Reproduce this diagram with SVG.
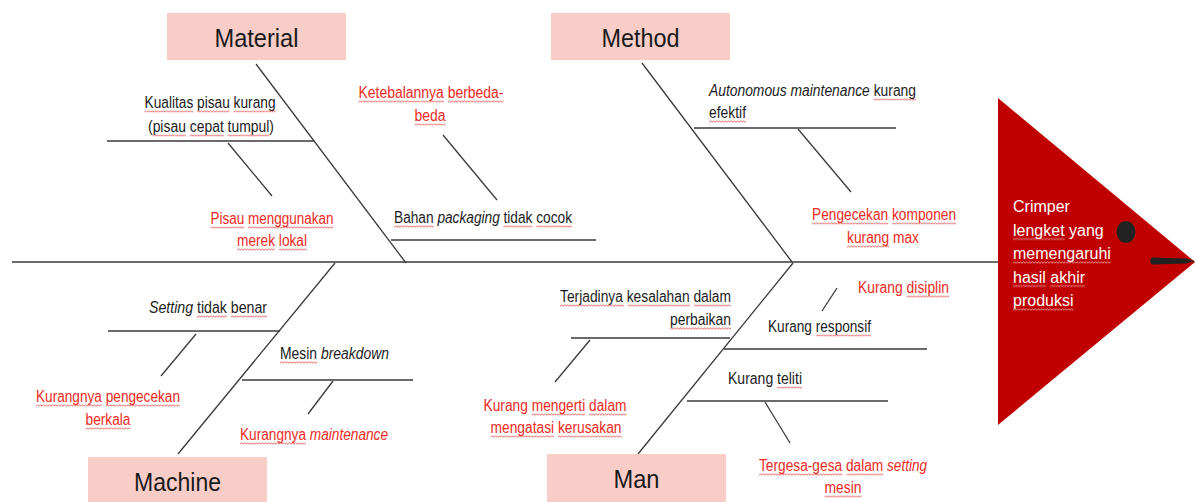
<svg xmlns="http://www.w3.org/2000/svg" width="1195" height="502" viewBox="0 0 1195 502">
<style>
.bg{fill:#ffffff}
.box{fill:#F8CDC8}
.title{font-family:"Liberation Sans",Arial,sans-serif;font-size:26px;fill:#1a1a1a;text-anchor:middle}
.t{font-family:"Liberation Sans",Arial,sans-serif;font-size:16px;fill:#1c1c1c}
.r{fill:#EC2A22}
.m{text-anchor:middle}
.e{text-anchor:end}
.i{font-style:italic}
.ln{stroke:#3a3a3a;stroke-width:1.3;fill:none}
.head{fill:#C00000}
.ht{font-family:"Liberation Sans",Arial,sans-serif;font-size:16px;fill:#ffffff}
.sq{fill:url(#wv)}
.sqw{fill:url(#wvw)}
</style>
<defs>
  <pattern id="wv" patternUnits="userSpaceOnUse" width="3" height="3">
    <path d="M-1.5,0.7 L0,2.3 L1.5,0.7 L3,2.3 L4.5,0.7" fill="none" stroke="#E63B3B" stroke-width="0.75"/>
  </pattern>
  <pattern id="wvw" patternUnits="userSpaceOnUse" width="3" height="3">
    <path d="M-1.5,0.7 L0,2.3 L1.5,0.7 L3,2.3 L4.5,0.7" fill="none" stroke="#F2B8B8" stroke-width="0.75"/>
  </pattern>
</defs>
<rect class="bg" x="0" y="0" width="1195" height="502"/>

<g id="connectors">
  <line class="ln" x1="12" y1="262" x2="998" y2="262"/>
  <line class="ln" x1="256" y1="64" x2="406" y2="263"/>
  <line class="ln" x1="107" y1="141" x2="314" y2="141"/>
  <line class="ln" x1="228" y1="143" x2="272" y2="196"/>
  <line class="ln" x1="443" y1="135" x2="497" y2="200"/>
  <line class="ln" x1="391" y1="240" x2="596" y2="240"/>
  <line class="ln" x1="642" y1="63" x2="792" y2="262"/>
  <line class="ln" x1="694" y1="128" x2="896" y2="128"/>
  <line class="ln" x1="798" y1="129" x2="851" y2="192"/>
  <line class="ln" x1="335" y1="263" x2="178" y2="454"/>
  <line class="ln" x1="108" y1="331" x2="280" y2="331"/>
  <line class="ln" x1="196" y1="334" x2="161" y2="376"/>
  <line class="ln" x1="242" y1="380" x2="413" y2="380"/>
  <line class="ln" x1="333" y1="381" x2="308" y2="414"/>
  <line class="ln" x1="793" y1="263" x2="638" y2="454"/>
  <line class="ln" x1="571" y1="338" x2="730" y2="338"/>
  <line class="ln" x1="590" y1="340" x2="555" y2="382"/>
  <line class="ln" x1="837" y1="288" x2="822" y2="311"/>
  <line class="ln" x1="724" y1="349" x2="927" y2="349"/>
  <line class="ln" x1="687" y1="401" x2="888" y2="401"/>
  <line class="ln" x1="765" y1="402" x2="790" y2="443"/>
</g>

<g id="head">
  <polygon class="head" points="998,98 1195,262 998,425"/>
  <ellipse cx="1126" cy="232" rx="9.5" ry="11" fill="#222222"/>
  <path d="M1152,257.5 L1186,258.5 L1195,261 L1186,263.5 L1152,264.5 Q1148,261 1152,257.5 Z" fill="#222222"/>
  <text class="ht" x="1013" y="212">Crimper</text>
  <text class="ht" x="1013" y="235.5">lengket yang</text>
  <text class="ht" x="1013" y="259">memengaruhi</text>
  <text class="ht" x="1013" y="282.5">hasil akhir</text>
  <text class="ht" x="1013" y="306">produksi</text>
</g>

<g id="material">
  <rect class="box" x="167" y="13" width="179" height="47"/>
  <text class="title" x="256.5" y="47" textLength="84" lengthAdjust="spacingAndGlyphs">Material</text>
</g>
<g id="method">
  <rect class="box" x="551" y="13" width="179" height="47"/>
  <text class="title" x="640.5" y="47" textLength="78" lengthAdjust="spacingAndGlyphs">Method</text>
</g>
<g id="machine">
  <rect class="box" x="88" y="457" width="179" height="50"/>
  <text class="title" x="177.5" y="491" textLength="87" lengthAdjust="spacingAndGlyphs">Machine</text>
</g>
<g id="man">
  <rect class="box" x="547" y="454" width="179" height="53"/>
  <text class="title" x="636.5" y="488" textLength="46" lengthAdjust="spacingAndGlyphs">Man</text>
</g>

<g id="cause-kualitas-pisau">
  <text class="t m" x="210" y="108" textLength="131" lengthAdjust="spacingAndGlyphs">Kualitas pisau kurang</text>
  <text class="t m" x="211" y="132" textLength="126" lengthAdjust="spacingAndGlyphs">(pisau cepat tumpul)</text>
</g>
<g id="cause-pisau-lokal">
  <text class="t r m" x="272" y="224" textLength="123" lengthAdjust="spacingAndGlyphs">Pisau menggunakan</text>
  <text class="t r m" x="272" y="246" textLength="70" lengthAdjust="spacingAndGlyphs">merek lokal</text>
</g>
<g id="cause-ketebalan">
  <text class="t r m" x="431" y="98" textLength="145" lengthAdjust="spacingAndGlyphs">Ketebalannya berbeda-</text>
  <text class="t r m" x="430" y="121" textLength="31" lengthAdjust="spacingAndGlyphs">beda</text>
</g>
<g id="cause-bahan">
  <text class="t" x="394" y="223" textLength="39.6" lengthAdjust="spacingAndGlyphs">Bahan</text>
  <text class="t i" x="437.4" y="223" textLength="62.4" lengthAdjust="spacingAndGlyphs">packaging</text>
  <text class="t" x="503.5" y="223" textLength="68.5" lengthAdjust="spacingAndGlyphs">tidak cocok</text>
</g>
<g id="cause-autonomous">
  <text class="t i" x="709" y="96" textLength="160.8" lengthAdjust="spacingAndGlyphs">Autonomous maintenance</text>
  <text class="t" x="873.7" y="96" textLength="42.3" lengthAdjust="spacingAndGlyphs">kurang</text>
  <text class="t" x="709" y="118" textLength="37" lengthAdjust="spacingAndGlyphs">efektif</text>
</g>
<g id="cause-pengecekan-komponen">
  <text class="t r m" x="884" y="220" textLength="144" lengthAdjust="spacingAndGlyphs">Pengecekan komponen</text>
  <text class="t r m" x="883" y="243" textLength="72" lengthAdjust="spacingAndGlyphs">kurang max</text>
</g>
<g id="cause-setting">
  <text class="t i" x="149" y="313" textLength="44.1" lengthAdjust="spacingAndGlyphs">Setting</text>
  <text class="t" x="197" y="313" textLength="70" lengthAdjust="spacingAndGlyphs">tidak benar</text>
</g>
<g id="cause-pengecekan-berkala">
  <text class="t r m" x="108" y="402" textLength="144" lengthAdjust="spacingAndGlyphs">Kurangnya pengecekan</text>
  <text class="t r m" x="108" y="425" textLength="45" lengthAdjust="spacingAndGlyphs">berkala</text>
</g>
<g id="cause-breakdown">
  <text class="t" x="280" y="359" textLength="37.1" lengthAdjust="spacingAndGlyphs">Mesin</text>
  <text class="t i" x="321" y="359" textLength="68" lengthAdjust="spacingAndGlyphs">breakdown</text>
</g>
<g id="cause-maintenance">
  <text class="t r" x="240" y="440" textLength="66" lengthAdjust="spacingAndGlyphs">Kurangnya</text>
  <text class="t r i" x="309.8" y="440" textLength="78.2" lengthAdjust="spacingAndGlyphs">maintenance</text>
</g>
<g id="cause-kesalahan">
  <text class="t e" x="731" y="302" textLength="171" lengthAdjust="spacingAndGlyphs">Terjadinya kesalahan dalam</text>
  <text class="t e" x="731" y="325" textLength="61" lengthAdjust="spacingAndGlyphs">perbaikan</text>
</g>
<g id="cause-mengerti">
  <text class="t r m" x="555" y="411" textLength="143" lengthAdjust="spacingAndGlyphs">Kurang mengerti dalam</text>
  <text class="t r m" x="556" y="433" textLength="131" lengthAdjust="spacingAndGlyphs">mengatasi kerusakan</text>
</g>
<g id="cause-disiplin">
  <text class="t r" x="858" y="293" textLength="91" lengthAdjust="spacingAndGlyphs">Kurang disiplin</text>
</g>
<g id="cause-responsif">
  <text class="t" x="768" y="332" textLength="103" lengthAdjust="spacingAndGlyphs">Kurang responsif</text>
</g>
<g id="cause-teliti">
  <text class="t" x="728" y="384" textLength="74" lengthAdjust="spacingAndGlyphs">Kurang teliti</text>
</g>
<g id="cause-tergesa">
  <text class="t r" x="759" y="471" textLength="124.3" lengthAdjust="spacingAndGlyphs">Tergesa-gesa dalam</text>
  <text class="t r i" x="887.1" y="471" textLength="39.9" lengthAdjust="spacingAndGlyphs">setting</text>
  <text class="t r m" x="843" y="493" textLength="37" lengthAdjust="spacingAndGlyphs">mesin</text>
</g>

<g id="spellcheck-marks">
  <rect class="sq" transform="translate(144.5,110)" width="48.7" height="3"/>
  <rect class="sq" transform="translate(197,110)" width="32.7" height="3"/>
  <rect class="sq" transform="translate(233.6,110)" width="41.9" height="3"/>
  <rect class="sq" transform="translate(152.6,134)" width="33.2" height="3"/>
  <rect class="sq" transform="translate(189.7,134)" width="34" height="3"/>
  <rect class="sq" transform="translate(227.6,134)" width="41.7" height="3"/>
  <rect class="sq" transform="translate(210.5,226)" width="33.7" height="3"/>
  <rect class="sq" transform="translate(248,226)" width="85.5" height="3"/>
  <rect class="sq" transform="translate(237,248)" width="38" height="3"/>
  <rect class="sq" transform="translate(278.8,248)" width="28.1" height="3"/>
  <rect class="sq" transform="translate(358.5,100)" width="85.6" height="3"/>
  <rect class="sq" transform="translate(448,100)" width="55.5" height="3"/>
  <rect class="sq" transform="translate(414.5,123)" width="31" height="3"/>
  <rect class="sq" transform="translate(394,225)" width="39.6" height="3"/>
  <rect class="sq" transform="translate(503.5,225)" width="28.9" height="3"/>
  <rect class="sq" transform="translate(536.3,225)" width="35.7" height="3"/>
  <rect class="sq" transform="translate(873.7,98)" width="42.3" height="3"/>
  <rect class="sq" transform="translate(709,120)" width="37" height="3"/>
  <rect class="sq" transform="translate(812,222)" width="76.2" height="3"/>
  <rect class="sq" transform="translate(892,222)" width="64" height="3"/>
  <rect class="sq" transform="translate(847,245)" width="42.1" height="3"/>
  <rect class="sq" transform="translate(197,315)" width="29.9" height="3"/>
  <rect class="sq" transform="translate(230.8,315)" width="36.2" height="3"/>
  <rect class="sq" transform="translate(36,404)" width="65.9" height="3"/>
  <rect class="sq" transform="translate(105.7,404)" width="74.3" height="3"/>
  <rect class="sq" transform="translate(85.5,427)" width="45" height="3"/>
  <rect class="sq" transform="translate(280,361)" width="37.1" height="3"/>
  <rect class="sq" transform="translate(240,442)" width="66" height="3"/>
  <rect class="sq" transform="translate(560,304)" width="63.8" height="3"/>
  <rect class="sq" transform="translate(627.6,304)" width="62.3" height="3"/>
  <rect class="sq" transform="translate(693.8,304)" width="37.2" height="3"/>
  <rect class="sq" transform="translate(670,327)" width="61" height="3"/>
  <rect class="sq" transform="translate(531.7,413)" width="53.5" height="3"/>
  <rect class="sq" transform="translate(589,413)" width="37.5" height="3"/>
  <rect class="sq" transform="translate(490.5,435)" width="63.6" height="3"/>
  <rect class="sq" transform="translate(557.9,435)" width="63.6" height="3"/>
  <rect class="sq" transform="translate(906.6,295)" width="42.4" height="3"/>
  <rect class="sq" transform="translate(815.7,334)" width="55.3" height="3"/>
  <rect class="sq" transform="translate(777.1,386)" width="24.9" height="3"/>
  <rect class="sq" transform="translate(759,473)" width="83.6" height="3"/>
  <rect class="sq" transform="translate(846.4,473)" width="36.9" height="3"/>
  <rect class="sq" transform="translate(824.5,495)" width="37" height="3"/>
  <rect class="sqw" transform="translate(1013,237.5)" width="51.6" height="3"/>
  <rect class="sqw" transform="translate(1013,261)" width="97.8" height="3"/>
  <rect class="sqw" transform="translate(1013,284.5)" width="32.9" height="3"/>
  <rect class="sqw" transform="translate(1050.3,284.5)" width="34.7" height="3"/>
  <rect class="sqw" transform="translate(1013,308)" width="60.5" height="3"/>
</g>
</svg>
